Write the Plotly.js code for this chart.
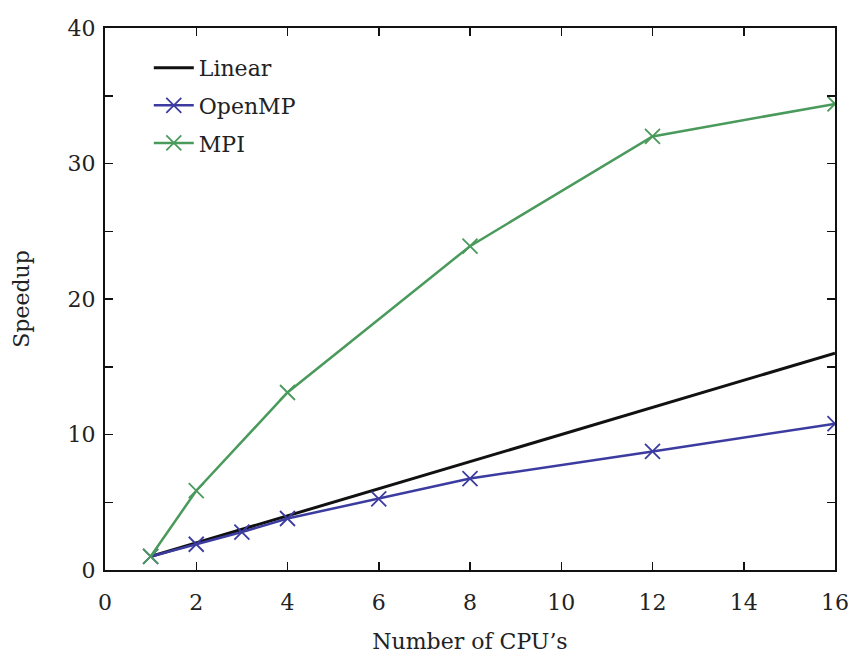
<!DOCTYPE html>
<html>
<head>
<meta charset="utf-8">
<script src="https://cdn.plot.ly/plotly-3.0.1.min.js"></script>
<style>html,body{margin:0;padding:0;background:#fff;}#chart{width:848px;height:656px;}</style>
</head>
<body>
<div id="chart"></div>
<script>
const linearX = [1, 16];
const linearY = [1, 16];
const openmpX = [1, 2, 3, 4, 6, 8, 12, 16];
const openmpY = [1.0, 1.9, 2.8, 3.8, 5.25, 6.75, 8.75, 10.8];
const mpiX = [1, 2, 4, 8, 12, 16];
const mpiY = [1.0, 5.85, 13.1, 23.9, 32.0, 34.4];
const xTickVals = [0, 2, 4, 6, 8, 10, 12, 14, 16];
const yTickVals = [0, 5, 10, 15, 20, 25, 30, 35, 40];
const yTickText = ['0', '', '10', '', '20', '', '30', '', '40'];

const font = {family: 'DejaVu Serif, Liberation Serif, serif', size: 22, color: '#222'};

const traces = [
  {x: linearX, y: linearY, name: 'Linear', legendgroup: 'a', mode: 'lines', line: {color: '#111', width: 3}},
  {x: openmpX, y: openmpY, name: 'OpenMP', legendgroup: 'b', mode: 'lines+markers',
   line: {color: '#3c3ca0', width: 2.5},
   marker: {symbol: 'x-thin-open', size: 15, line: {color: '#3c3ca0', width: 1.8}}},
  {x: mpiX, y: mpiY, name: 'MPI', legendgroup: 'c', mode: 'lines+markers',
   line: {color: '#4a9a5c', width: 2.5},
   marker: {symbol: 'x-thin-open', size: 15, line: {color: '#4a9a5c', width: 1.8}}}
];

const axisCommon = {
  showgrid: false, zeroline: false, showline: true, linecolor: '#111', linewidth: 2,
  mirror: 'ticks', ticks: 'inside', ticklen: 8, tickwidth: 1.5, tickcolor: '#111',
  tickfont: font, ticklabeloverflow: 'allow'
};

const layout = {
  width: 848, height: 656,
  margin: {l: 105, r: 13, t: 28, b: 86},
  paper_bgcolor: '#fff', plot_bgcolor: '#fff',
  font: font,
  showlegend: true,
  legend: {x: 0.06, y: 0.965, xanchor: 'left', yanchor: 'top', bgcolor: 'rgba(0,0,0,0)',
           font: font, tracegroupgap: 6, itemwidth: 40},
  xaxis: Object.assign({}, axisCommon, {
    range: [0, 16], tickvals: xTickVals, ticktext: xTickVals.map(String),
    ticklabelstandoff: 12,
    title: {text: "Number of CPU’s", font: font, standoff: 19}
  }),
  yaxis: Object.assign({}, axisCommon, {
    range: [0, 40], tickvals: yTickVals, ticktext: yTickText,
    ticklabelstandoff: 3,
    title: {text: 'Speedup', font: font, standoff: 32}
  })
};

Plotly.newPlot('chart', traces, layout, {displayModeBar: false, staticPlot: true});
</script>
</body>
</html>
